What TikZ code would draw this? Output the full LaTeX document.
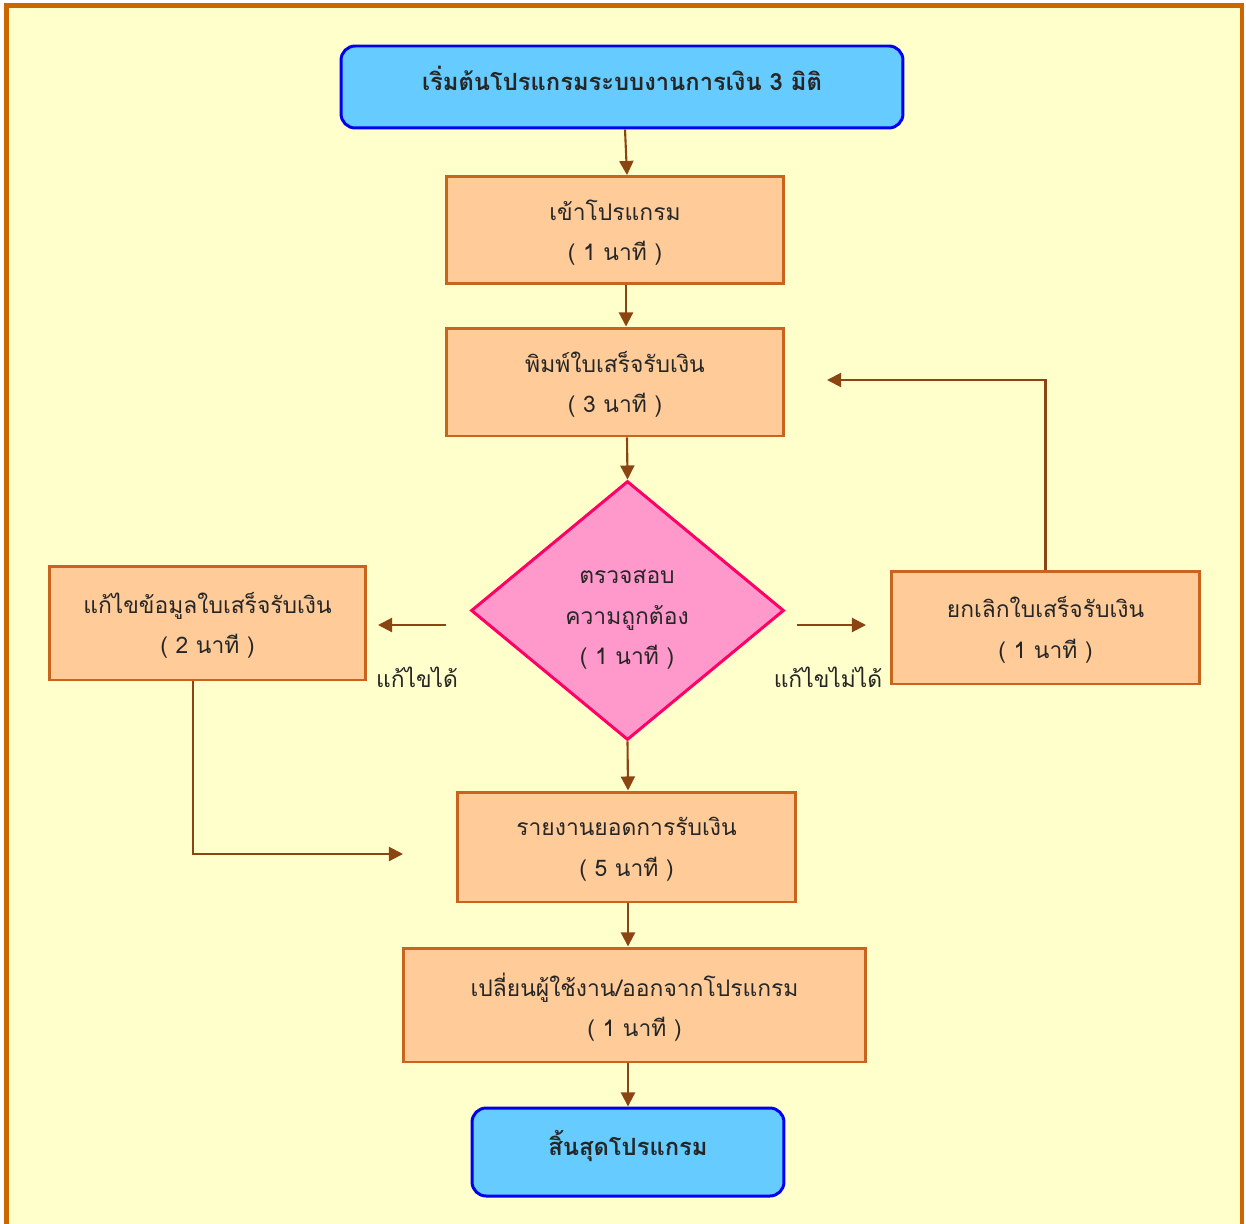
\documentclass[tikz,border=0pt]{standalone}
\usepackage{fontspec}
\newfontfamily\thaifont[Script=Thai]{Loma}
\usetikzlibrary{arrows.meta,shapes.geometric}
\definecolor{pagebg}{HTML}{FFFFCC}
\definecolor{frameor}{HTML}{CC6600}
\definecolor{boxfill}{HTML}{FFCC99}
\definecolor{boxline}{HTML}{C8641E}
\definecolor{termfill}{HTML}{66CCFF}
\definecolor{termline}{HTML}{0000EE}
\definecolor{checkfill}{HTML}{FF99CC}
\definecolor{checkline}{HTML}{FF0066}
\definecolor{flowline}{HTML}{8B4513}

\begin{document}
\begin{tikzpicture}[
  x=0.02cm, y=-0.02cm,
  >={Triangle[length=8pt,width=8pt]},
  every node/.style={font=\thaifont\fontsize{13}{23}\selectfont, text=black!85},
  terminal/.style={rectangle, rounded corners=8pt, draw=termline, fill=termfill,
    line width=1.7pt, inner sep=0pt, text height=10pt, text depth=6pt,
    font=\thaifont\bfseries\fontsize{13.5}{23}\selectfont},
  stepbox/.style={rectangle, draw=boxline, fill=boxfill, line width=1.7pt,
    inner sep=0pt, align=center, text depth=-4pt},
  checkbox/.style={diamond, draw=checkline, fill=checkfill, line width=1.7pt,
    inner sep=0pt, align=center},
  flow/.style={->, draw=flowline, line width=1.2pt}
]
\useasboundingbox (0,0) rectangle (1246,1223);
% พื้นหลัง
\fill[white] (0,0) rectangle (1246,1223);
\draw[fill=pagebg, draw=frameor, line width=2.3pt] (6.5,5.5) rectangle (1241.5,1240);

% เริ่มต้น
\node[terminal, minimum width=11.24cm, minimum height=1.64cm] (start) at (622,87)
  {เริ่มต้นโปรแกรมระบบงานการเงิน 3 มิติ};

% ขั้นตอนหลัก
\node[stepbox, minimum width=6.76cm, minimum height=2.14cm] (login) at (615,230)
  {เข้าโปรแกรม\\( 1 นาที )};
\node[stepbox, minimum width=6.76cm, minimum height=2.16cm] (print) at (615,382)
  {พิมพ์ใบเสร็จรับเงิน\\( 3 นาที )};
\node[checkbox, minimum width=6.26cm, minimum height=5.18cm] (check) at (627.5,610.5) {};
\node[align=center] (checktext) at (627,620) {ตรวจสอบ\\ความถูกต้อง\\( 1 นาที )};

% ทางเลือก
\node[stepbox, minimum width=6.34cm, minimum height=2.28cm] (edit) at (207.5,623)
  {แก้ไขข้อมูลใบเสร็จรับเงิน\\( 2 นาที )};
\node[stepbox, minimum width=6.18cm, minimum height=2.26cm] (cancel) at (1045.5,627.5)
  {ยกเลิกใบเสร็จรับเงิน\\( 1 นาที )};

% ขั้นตอนท้าย
\node[stepbox, minimum width=6.78cm, minimum height=2.2cm] (report) at (626.5,847)
  {รายงานยอดการรับเงิน\\( 5 นาที )};
\node[stepbox, minimum width=9.26cm, minimum height=2.28cm] (logout) at (634.5,1005)
  {เปลี่ยนผู้ใช้งาน/ออกจากโปรแกรม\\( 1 นาที )};
\node[terminal, minimum width=6.24cm, minimum height=1.76cm] (finish) at (628,1152)
  {สิ้นสุดโปรแกรม};

% ลูกศรแนวตั้ง
\draw[flow] (start.south -| 625,0) -- (login.north -| 627,0);
\draw[flow] (login.south -| 626,0) -- (print.north -| 626,0);
\draw[flow] (print.south -| 627,0) -- (check.north);
\draw[flow] (check.south) -- (report.north -| 628,0);
\draw[flow] (report.south -| 628,0) -- (logout.north -| 628,0);
\draw[flow] (logout.south -| 628,0) -- (finish.north -| 628,0);

% ลูกศรซ้าย/ขวา
\coordinate (leftfrom) at (446,625);
\coordinate (leftto) at (378,625);
\coordinate (rightfrom) at (797,625);
\coordinate (rightto) at (866,625);
\draw[flow] (leftfrom) -- (leftto);
\node (canfix) at (417,677) {แก้ไขได้};
\draw[flow] (rightfrom) -- (rightto);
\node (cannotfix) at (828,677) {แก้ไขไม่ได้};

% วนกลับ
\coordinate (backto) at (827,380);
\draw[flow] (cancel.north) |- (backto);
\coordinate (reportin) at (403,854);
\draw[flow] (edit.south -| 193,0) |- (reportin);
\end{tikzpicture}
\end{document}
